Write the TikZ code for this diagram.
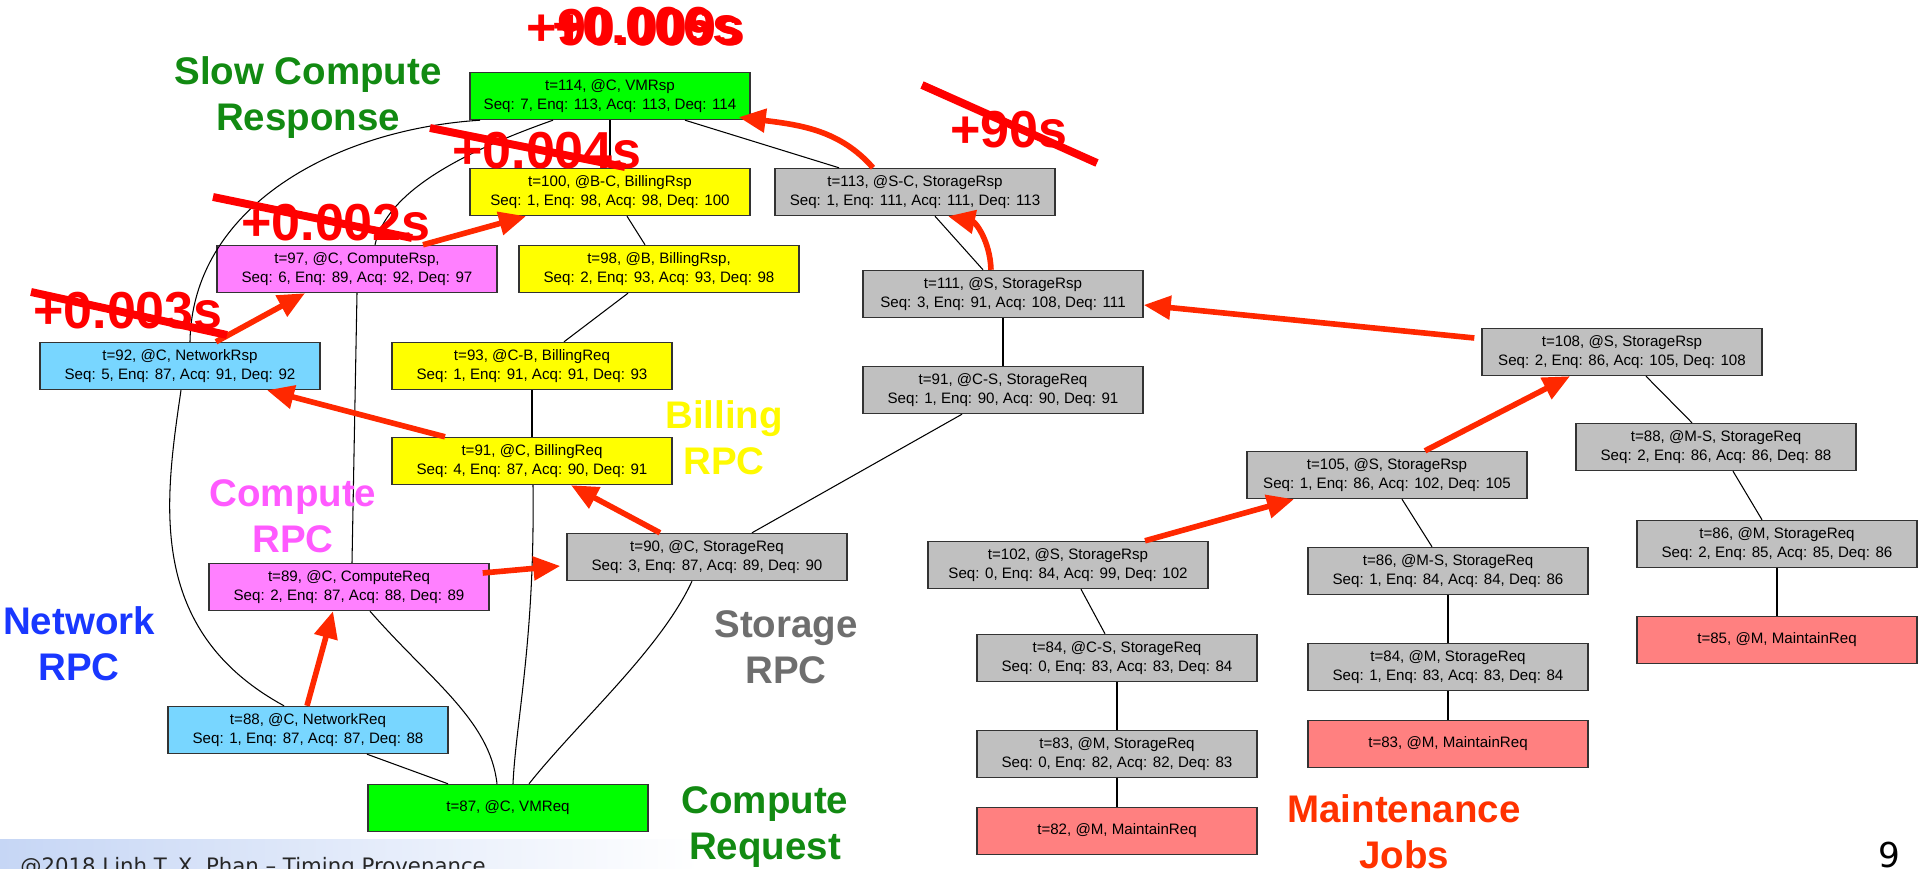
\documentclass[tikz,border=0pt]{standalone}
\usepackage{fontspec}
\setmainfont{Liberation Sans}
\newfontfamily\footfont{DejaVu Sans}
\usepackage{tikz}
\usetikzlibrary{positioning}
\usetikzlibrary{calc}
\usetikzlibrary{arrows.meta}

\definecolor{vmgreen}{RGB}{0,255,0}
\definecolor{billyellow}{RGB}{255,255,0}
\definecolor{compmagenta}{RGB}{255,128,255}
\definecolor{netblue}{RGB}{120,214,255}
\definecolor{storgray}{RGB}{192,192,192}
\definecolor{maintred}{RGB}{255,128,128}
\definecolor{critred}{RGB}{255,40,0}
\definecolor{strikered}{RGB}{255,0,0}
\definecolor{labgreen}{RGB}{18,138,18}
\definecolor{labblue}{RGB}{25,55,255}
\definecolor{labmagenta}{RGB}{255,90,255}
\definecolor{labyellow}{RGB}{255,250,0}
\definecolor{labgray}{RGB}{110,110,110}
\definecolor{labred}{RGB}{255,50,0}
\definecolor{footblue}{RGB}{198,214,245}

\begin{document}
\begin{tikzpicture}[x=0.2mm,y=-0.2mm,
  ev/.style={draw=black!80,line width=0.8pt,minimum width=56mm,minimum height=9.4mm,
    inner sep=0pt,align=center,font=\fontsize{8.6}{10.8}\selectfont},
  vm/.style={ev,fill=vmgreen},
  bill/.style={ev,fill=billyellow},
  comp/.style={ev,fill=compmagenta},
  net/.style={ev,fill=netblue},
  stor/.style={ev,fill=storgray},
  maint/.style={ev,fill=maintred},
  link/.style={draw=black,line width=0.6pt},
  crit/.style={draw=critred,line width=3.2pt,-{Triangle[length=5.4mm,width=4.6mm]}},
  lab/.style={font=\fontsize{21.9}{26.2}\selectfont\bfseries,align=center,inner sep=0pt},
  delay/.style={font=\fontsize{29.6}{30}\selectfont\bfseries,text=strikered,inner sep=0pt,anchor=base},
  strike/.style={draw=strikered,line width=4.5pt}]
\useasboundingbox (0,0) rectangle (1920,869);

\shade[left color=footblue,right color=white] (0,839) rectangle (700,869);

% compute side
\node[vm](VMRsp) at (610,96){t=114, @C, VMRsp\\Seq: 7, Enq: 113, Acq: 113, Deq: 114};
\node[bill](BillRspBC) at (610,192){t=100, @B-C, BillingRsp\\Seq: 1, Enq: 98, Acq: 98, Deq: 100};
\node[stor](StorRspSC) at (915,192){t=113, @S-C, StorageRsp\\Seq: 1, Enq: 111, Acq: 111, Deq: 113};
\node[comp](CompRsp) at (357,269){t=97, @C, ComputeRsp,\\Seq: 6, Enq: 89, Acq: 92, Deq: 97};
\node[bill](BillRspB) at (659,269){t=98, @B, BillingRsp,\\Seq: 2, Enq: 93, Acq: 93, Deq: 98};
\node[stor](StorRsp111) at (1003,294){t=111, @S, StorageRsp\\Seq: 3, Enq: 91, Acq: 108, Deq: 111};
\node[net](NetRsp) at (180,366){t=92, @C, NetworkRsp\\Seq: 5, Enq: 87, Acq: 91, Deq: 92};
\node[bill](BillReqCB) at (532,366){t=93, @C-B, BillingReq\\Seq: 1, Enq: 91, Acq: 91, Deq: 93};
\node[stor](StorReqCS91) at (1003,390){t=91, @C-S, StorageReq\\Seq: 1, Enq: 90, Acq: 90, Deq: 91};
\node[bill](BillReqC) at (532,461){t=91, @C, BillingReq\\Seq: 4, Enq: 87, Acq: 90, Deq: 91};
\node[stor](StorReqC) at (707,557){t=90, @C, StorageReq\\Seq: 3, Enq: 87, Acq: 89, Deq: 90};
\node[comp](CompReq) at (349,587){t=89, @C, ComputeReq\\Seq: 2, Enq: 87, Acq: 88, Deq: 89};
\node[net](NetReq) at (308,730){t=88, @C, NetworkReq\\Seq: 1, Enq: 87, Acq: 87, Deq: 88};
\node[vm](VMReq) at (508,808){t=87, @C, VMReq};

% maintenance side
\node[stor](StorRsp108) at (1622,352){t=108, @S, StorageRsp\\Seq: 2, Enq: 86, Acq: 105, Deq: 108};
\node[stor](StorReqMS88) at (1716,447){t=88, @M-S, StorageReq\\Seq: 2, Enq: 86, Acq: 86, Deq: 88};
\node[stor](StorRsp105) at (1387,475){t=105, @S, StorageRsp\\Seq: 1, Enq: 86, Acq: 102, Deq: 105};
\node[stor](StorReqM86) at (1777,544){t=86, @M, StorageReq\\Seq: 2, Enq: 85, Acq: 85, Deq: 86};
\node[stor](StorRsp102) at (1068,565){t=102, @S, StorageRsp\\Seq: 0, Enq: 84, Acq: 99, Deq: 102};
\node[stor](StorReqMS86) at (1448,571){t=86, @M-S, StorageReq\\Seq: 1, Enq: 84, Acq: 84, Deq: 86};
\node[maint](Maint85) at (1777,640){t=85, @M, MaintainReq};
\node[stor](StorReqCS84) at (1117,658){t=84, @C-S, StorageReq\\Seq: 0, Enq: 83, Acq: 83, Deq: 84};
\node[stor](StorReqM84) at (1448,667){t=84, @M, StorageReq\\Seq: 1, Enq: 83, Acq: 83, Deq: 84};
\node[maint](Maint83) at (1448,744){t=83, @M, MaintainReq};
\node[stor](StorReqM83) at (1117,754){t=83, @M, StorageReq\\Seq: 0, Enq: 82, Acq: 82, Deq: 83};
\node[maint](Maint82) at (1117,831){t=82, @M, MaintainReq};

% dependency links
\path
(VMRsp.south) edge[link] (BillRspBC.north)
($(VMRsp.south)+(75,0)$) edge[link] ($(StorRspSC.north)+(-76,0)$)
($(BillRspBC.south)+(17,0)$) edge[link] ($(BillRspB.north)+(-14,0)$)
($(StorRspSC.south)+(20,0)$) edge[link] ($(StorRsp111.north)+(-20,0)$)
(CompRsp.south) edge[link] ($(CompReq.north)+(3,0)$)
($(BillRspB.south)+(-31,0)$) edge[link] ($(BillReqCB.north)+(32,0)$)
(BillReqCB.south) edge[link] (BillReqC.north)
(StorRsp111.south) edge[link] (StorReqCS91.north)
($(StorReqCS91.south)+(-41,0)$) edge[link] ($(StorReqC.north)+(45,0)$)
($(NetReq.south)+(59,0)$) edge[link] ($(VMReq.north)+(-60,0)$)
($(StorRsp108.south)+(24,0)$) edge[link] ($(StorReqMS88.north)+(-24,0)$)
($(StorReqMS88.south)+(17,0)$) edge[link] ($(StorReqM86.north)+(-15,0)$)
(StorReqM86.south) edge[link] (Maint85.north)
($(StorRsp105.south)+(15,0)$) edge[link] ($(StorReqMS86.north)+(-16,0)$)
(StorReqMS86.south) edge[link] (StorReqM84.north)
(StorReqM84.south) edge[link] (Maint83.north)
($(StorRsp102.south)+(13,0)$) edge[link] ($(StorReqCS84.north)+(-12,0)$)
(StorReqCS84.south) edge[link] (StorReqM83.north)
(StorReqM83.south) edge[link] (Maint82.north);

\draw[link] ($(VMRsp.south)+(-130,0)$) .. controls (330,130) and (192,210) .. ($(NetRsp.north)+(10,0)$);
\draw[link] ($(VMRsp.south)+(-57,0)$) .. controls (440,160) and (385,200) .. ($(CompRsp.north)+(18,0)$);
\draw[link] ($(NetRsp.south)+(1,0)$) .. controls (165,500) and (145,630) .. ($(NetReq.north)+(-24,0)$);
\draw[link] ($(BillReqC.south)+(1,0)$) .. controls (535,640) and (516,720) .. ($(VMReq.north)+(5,0)$);
\draw[link] ($(CompReq.south)+(21,0)$) .. controls (430,680) and (490,720) .. ($(VMReq.north)+(-11,0)$);
\draw[link] ($(StorReqC.south)+(-15,0)$) .. controls (660,650) and (580,720) .. ($(VMReq.north)+(21,0)$);

% critical path
\path
($(NetReq.north)+(-1,0)$) edge[crit] ($(CompReq.south)+(-16,0)$)
($(CompReq.east)+(-7,-14)$) edge[crit] ($(StorReqC.west)+(-6,9)$)
($(StorReqC.north)+(-47,0)$) edge[crit] ($(BillReqC.south)+(39,0)$)
($(BillReqC.north)+(-87,0)$) edge[crit] ($(NetRsp.south)+(87,0)$)
($(NetRsp.north)+(36,0)$) edge[crit] ($(CompRsp.south)+(-52,0)$)
($(CompRsp.north)+(66,0)$) edge[crit] ($(BillRspBC.south)+(-84,0)$)
($(StorRsp108.west)+(-7,-14)$) edge[crit] ($(StorRsp111.east)+(0,11)$)
($(StorRsp105.north)+(38,0)$) edge[crit] ($(StorRsp108.south)+(-52,0)$)
($(StorRsp102.north)+(77,0)$) edge[crit] ($(StorRsp105.south)+(-93,0)$);
\draw[crit] ($(StorRspSC.north)+(-42,0)$) .. controls (840,130) and (800,125) .. ($(VMRsp.south east)+(-12,-3)$);
\draw[crit] ($(StorRsp111.north)+(-12,0)$) .. controls (990,240) and (975,222) .. ($(StorRspSC.south)+(33,0)$);

% group labels
\node[lab,text=labgreen](SlowLab) at (308,98){Slow Compute\\Response};
\node[lab,text=labblue](NetLab) at (79,644){Network\\RPC};
\node[lab,text=labmagenta](CompLab) at (293,516){Compute\\RPC};
\node[lab,text=labyellow](BillLab) at (724,438){Billing\\RPC};
\node[lab,text=labgray](StorLab) at (786,647){Storage\\RPC};
\node[lab,text=labgreen](ReqLab) at (765,827){Compute\\Request};
\node[lab,text=labred](MaintLab) at (1404,832){Maintenance\\Jobs};

% delays
\node[delay](D003) at (128,329){+0.003s};
\node[delay](D002) at (336,241){+0.002s};
\node[delay](D004) at (547,169){+0.004s};
\node[delay](D90) at (1009,148){+90s};
\node[delay](TotalA) at (636,46){+90.009s};
\node[delay,anchor=base east](TotalB) at (745,46){+0.009s};
\node[delay,anchor=base east](TotalC) at (742,44){+0.006s};
\draw[strike] (31,292) -- (227,335);
\draw[strike] (213,197) -- (412,238);
\draw[strike] (430,128) -- (625,167);
\draw[strike] (922,85) -- (1097,163);

% footer
\node[anchor=base west,inner sep=0pt,text=black!85,font=\footfont\fontsize{12.1}{14}\selectfont](Foot) at (20,873){@2018 Linh T. X. Phan – Timing Provenance};
\node[anchor=base,inner sep=0pt,font=\footfont\fontsize{19.5}{20}\selectfont](PageNo) at (1889,867){9};
\end{tikzpicture}
\end{document}
